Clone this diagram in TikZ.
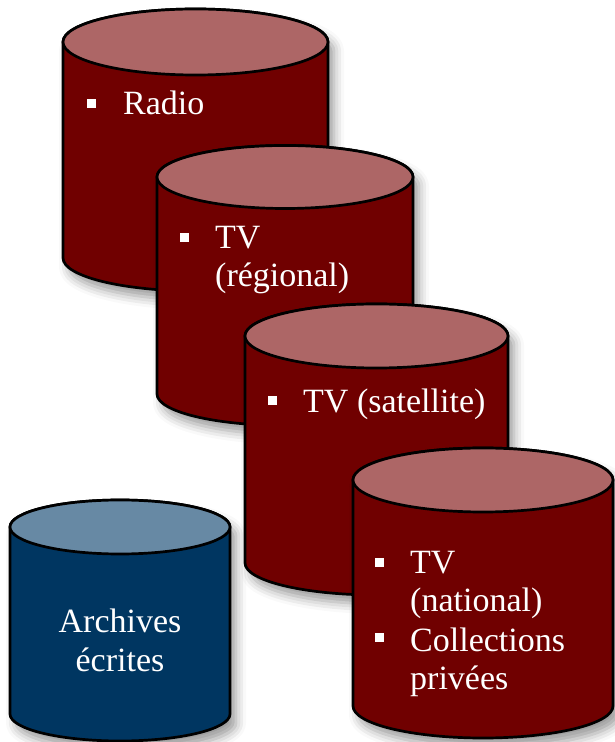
\documentclass[tikz,border=0pt]{standalone}
\usepackage{fontspec}
\setmainfont{Liberation Serif}
\usetikzlibrary{shadows.blur}
\definecolor{bodyred}{HTML}{700000}
\definecolor{topred}{HTML}{AD6666}
\definecolor{bodyblue}{HTML}{003661}
\definecolor{topblue}{HTML}{6789A4}
\tikzset{
  lbl/.style={text=white, font=\fontsize{34}{38}\selectfont, anchor=base west, inner sep=0pt},
  clbl/.style={lbl, anchor=base},
  bul/.style={fill=white, minimum size=9pt, inner sep=0pt},
  drumline/.style={draw=black, line width=2.7pt},
  drumshadow/.style={blur shadow={shadow xshift=6pt, shadow yshift=-9pt, shadow blur radius=10pt, shadow opacity=40}}
}
% #1 cx, #2 top centre y (image), #3 bottom centre y (image), #4 rx, #5 ry, #6 body, #7 top
\newcommand{\drum}[7]{%
  \path[drumline, fill=#6, drumshadow]
    (#1-#4, 742-#2) -- (#1-#4, 742-#3)
    arc[start angle=180, end angle=360, x radius=#4pt, y radius=#5pt]
    -- (#1+#4, 742-#2)
    arc[start angle=0, end angle=180, x radius=#4pt, y radius=#5pt] -- cycle;
  \draw[drumline, fill=#7] (#1, 742-#2) ellipse[x radius=#4pt, y radius=#5pt];
}
\begin{document}
\begin{tikzpicture}[x=1pt, y=1pt]
\useasboundingbox (0,0) rectangle (615,742);
% Radio
\drum{195.5}{42}{258}{132.5}{33}{bodyred}{topred}
\node[bul] (b1) at (91, 742-104) {};
\node[lbl] (t1) at (123, 742-115) {Radio};
% TV regional
\drum{285}{177}{394}{128}{31.5}{bodyred}{topred}
\node[bul] (b2) at (184, 742-238) {};
\node[lbl] (t2a) at (215, 742-249) {TV};
\node[lbl] (t2b) at (215, 742-287) {(régional)};
% TV satellite
\drum{376.5}{336}{563}{131.5}{32}{bodyred}{topred}
\node[bul] (b3) at (272, 742-401) {};
\node[lbl] (t3) at (303, 742-413) {TV (satellite)};
% TV national
\drum{483}{480}{706}{130}{32}{bodyred}{topred}
\node[bul] (b4) at (379, 742-563) {};
\node[lbl] (t4a) at (410, 742-574) {TV};
\node[lbl] (t4b) at (410, 742-612) {(national)};
\node[bul] (b5) at (379, 742-638) {};
\node[lbl] (t5a) at (410, 742-652) {Collections};
\node[lbl] (t5b) at (410, 742-690) {privées};
% Archives
\drum{120}{527}{714}{110}{27}{bodyblue}{topblue}
\node[clbl] (t6a) at (120, 742-633) {Archives};
\node[clbl] (t6b) at (120, 742-672) {écrites};
\end{tikzpicture}
\end{document}
